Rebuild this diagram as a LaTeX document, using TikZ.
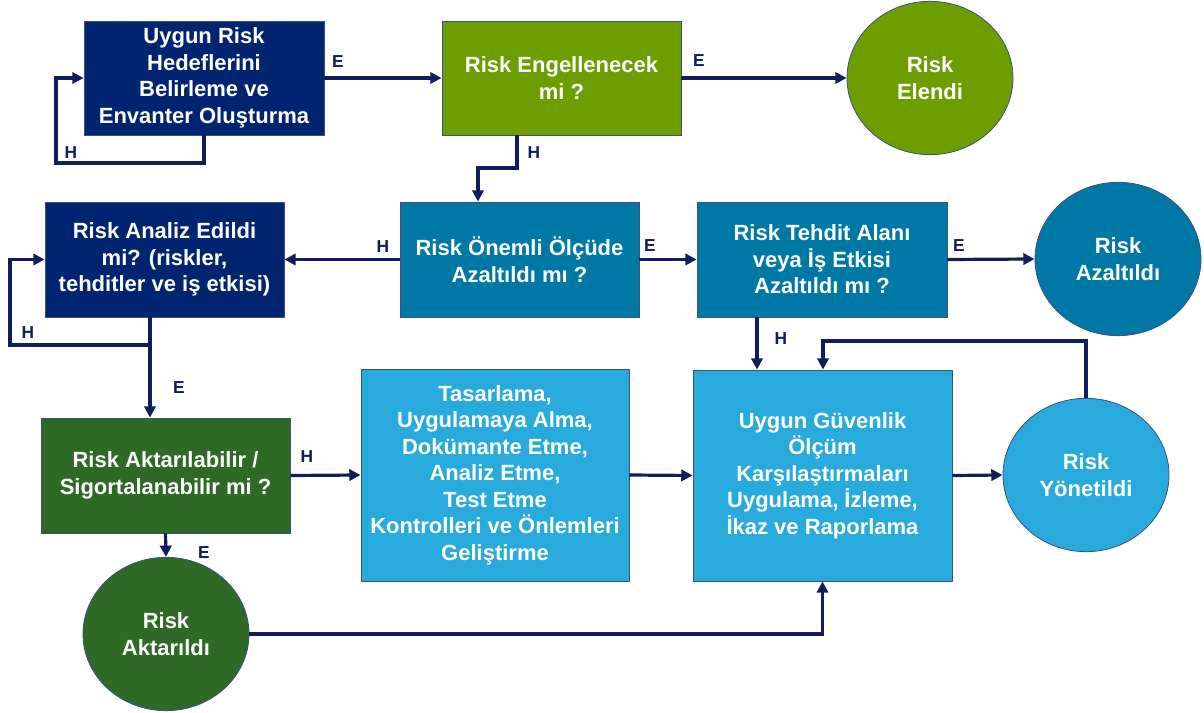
\documentclass[tikz,border=0pt]{standalone}
\usepackage{fontspec}
\setmainfont{Liberation Sans}
\usetikzlibrary{arrows.meta,shapes.geometric}
\definecolor{navyb}{RGB}{0,36,112}
\definecolor{arrowc}{RGB}{16,30,96}
\definecolor{lgreen}{RGB}{108,158,0}
\definecolor{tealb}{RGB}{0,120,166}
\definecolor{lblue}{RGB}{41,170,220}
\definecolor{dgreen}{RGB}{46,106,37}
\definecolor{edgec}{RGB}{60,80,130}
\begin{document}
\begin{tikzpicture}[x=0.75pt,y=-0.75pt,
  box/.style={rectangle,draw=edgec,line width=0.6pt,text=white,
    font=\bfseries\fontsize{16.5}{19.9}\selectfont,align=center,inner sep=0pt},
  term/.style={ellipse,draw=edgec,line width=0.6pt,text=white,
    font=\bfseries\fontsize{16.5}{19.9}\selectfont,align=center,inner sep=0pt,
    minimum width=124.5pt,minimum height=115pt},
  arr/.style={draw=arrowc,line width=2.4pt,-{Triangle[length=8.5pt,width=8.5pt]}},
  lab/.style={text=arrowc,font=\bfseries\fontsize{13}{15}\selectfont,inner sep=0pt}]
\useasboundingbox (0,0) rectangle (1204,713);

% nodes
\node[box,fill=navyb,minimum width=180pt,minimum height=85.5pt] (B1) at (204,78)
  {Uygun Risk\\Hedeflerini\\Belirleme ve\\Envanter Oluşturma};
\node[box,fill=lgreen,minimum width=179.25pt,minimum height=85.5pt] (B2) at (561.5,78)
  {Risk Engellenecek\\mi ?};
\node[term,fill=lgreen] (E1) at (930,78) {Risk\\Elendi};
\node[box,fill=tealb,minimum width=179.25pt,minimum height=86.25pt] (B3) at (519.5,259.5)
  {Risk Önemli Ölçüde\\Azaltıldı mı ?};
\node[box,fill=navyb,minimum width=179.25pt,minimum height=86.25pt] (B4) at (164.5,259.5)
  {Risk Analiz Edildi\\mi? (riskler,\\tehditler ve iş etkisi)};
\node[box,fill=tealb,minimum width=187.5pt,minimum height=86.25pt] (T) at (822,259.5)
  {Risk Tehdit Alanı\\veya İş Etkisi\\Azaltıldı mı ?};
\node[term,fill=tealb] (A) at (1118,259) {Risk\\Azaltıldı};
\node[box,fill=dgreen,minimum width=186.75pt,minimum height=86.25pt] (B5) at (165.5,475.5)
  {Risk Aktarılabilir /\\Sigortalanabilir mi ?};
\node[box,fill=lblue,minimum width=201pt,minimum height=159pt] (Ta) at (495,475)
  {Tasarlama,\\Uygulamaya Alma,\\Dokümante Etme,\\Analiz Etme,\\Test Etme\\Kontrolleri ve Önlemleri\\Geliştirme};
\node[box,fill=lblue,minimum width=194.25pt,minimum height=158.25pt] (G) at (822.5,475.5)
  {Uygun Güvenlik\\Ölçüm\\Karşılaştırmaları\\Uygulama, İzleme,\\İkaz ve Raporlama};
\node[term,fill=lblue] (Y) at (1086,475) {Risk\\Yönetildi};
\node[term,fill=dgreen] (Ak) at (166,634) {Risk\\Aktarıldı};

% helper coordinates
\coordinate (c1) at (204,163);
\coordinate (lp1) at (56,163);
\coordinate (c2a) at (517,168);
\coordinate (c2b) at (478,168);
\coordinate (j1) at (150,345);
\coordinate (lp4) at (10,259.5);
\coordinate (c757) at (757,0);
\coordinate (ctop) at (823,341);

% connectors
\draw[arr] (B1.south -| c1) -- (c1) -- (lp1) |- (B1.west);
\draw[arr] (B1.east) -- (B2.west);
\draw[arr] (B2.east) -- (E1.west);
\draw[arr] (B2.south -| c2a) -- (c2a) -- (c2b) -- (B3.north -| c2b);
\draw[arr] (B3.west) -- (B4.east);
\draw[arr] (B3.east) -- (T.west);
\draw[arr] (T.east) -- (A.west);
\draw[arr] (B4.south -| j1) -- (B5.north -| j1);
\draw[arr] (j1) -| (lp4) -- (B4.west);
\draw[arr] (B5.east) -- (Ta.west);
\draw[arr] (B5.south) -- (Ak.north);
\draw[arr] (Ta.east) -- (G.west);
\draw[arr] (G.east) -- (Y.west);
\draw[arr] (T.south -| c757) -- (G.north -| c757);
\draw[arr] (Y.north) |- (ctop) -- (G.north -| ctop);
\draw[arr] (Ak.east) -| (G.south);

% labels
\node[lab] (l1) at (71,153) {H};
\node[lab] (l2) at (338,62) {E};
\node[lab] (l3) at (699,61) {E};
\node[lab] (l4) at (534,153) {H};
\node[lab] (l5) at (383,247) {H};
\node[lab] (l6) at (650,246) {E};
\node[lab] (l7) at (959,246) {E};
\node[lab] (l8) at (28,333) {H};
\node[lab] (l9) at (179,388) {E};
\node[lab] (l10) at (307,457) {H};
\node[lab] (l11) at (204,553) {E};
\node[lab] (l12) at (781,339) {H};
\end{tikzpicture}
\end{document}
